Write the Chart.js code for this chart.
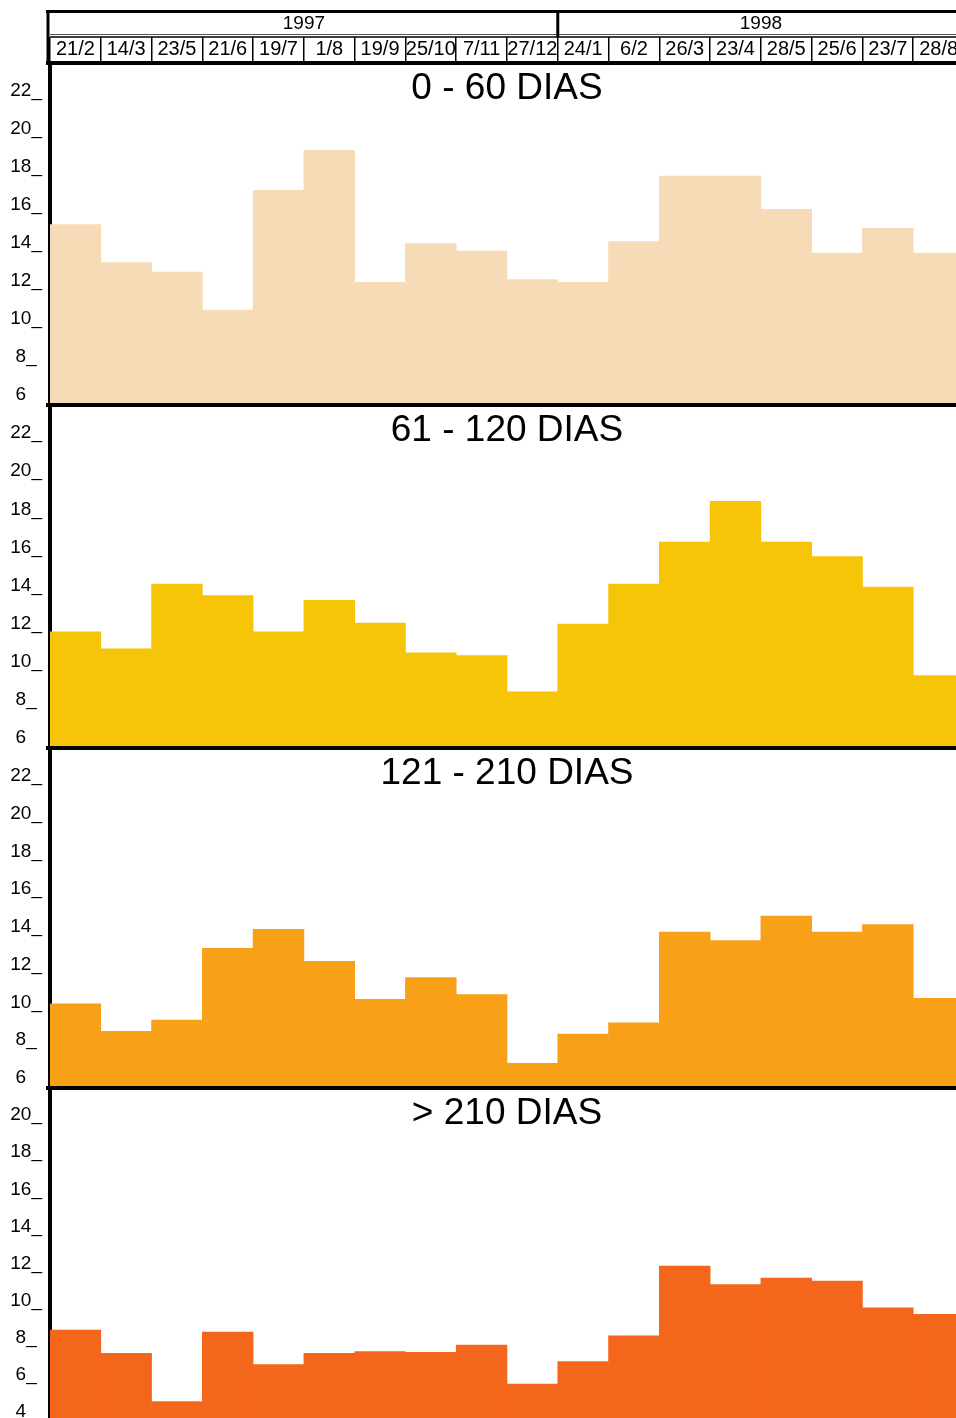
<!DOCTYPE html>
<html>
<head>
<meta charset="utf-8">
<script src="https://cdn.jsdelivr.net/npm/chart.js@4.4.1/dist/chart.umd.min.js"></script>
<style>
	html, body { margin: 0; padding: 0; background: #fff; overflow: hidden; }
	canvas { display: block; }
</style>
</head>
<body>
<canvas id="diasChart" width="964" height="1422"></canvas>
<script>
// sampling dates (day/month), 1997 -> 1998
const dates = ['21/2', '14/3', '23/5', '21/6', '19/7', '1/8', '19/9', '25/10', '7/11', '27/12',
	'24/1', '6/2', '26/3', '23/4', '28/5', '25/6', '23/7', '28/8'];
const years = ['1997', '1998'];
const panelTitles = ['0 - 60 DIAS', '61 - 120 DIAS', '121 - 210 DIAS', '> 210 DIAS'];

// values, one per date
const dias0a60 = [15.5, 13.5, 13.0, 11.0, 17.3, 19.4, 12.45, 14.5, 14.1, 12.6, 12.45, 14.6, 18.05, 18.05, 16.3, 14.0, 15.3, 14.0];
const dias61a120 = [12.1, 11.2, 14.6, 14.0, 12.1, 13.75, 12.55, 11.0, 10.85, 8.95, 12.5, 14.6, 16.8, 18.95, 16.8, 16.05, 14.45, 9.8];
const dias121a210 = [10.45, 9.0, 9.6, 13.4, 14.4, 12.7, 10.7, 11.85, 10.95, 7.3, 8.85, 9.45, 14.25, 13.8, 15.1, 14.25, 14.65, 10.75];
const diasMas210 = [8.95, 7.7, 5.1, 8.85, 7.1, 7.7, 7.8, 7.75, 8.15, 6.05, 7.25, 8.65, 12.4, 11.4, 11.75, 11.6, 10.15, 9.8];

// y ranges of the four panels
const axisMin = [6, 6, 6, 4];
const axisMax = [24, 24, 24, 22];

const FONT = "'Liberation Sans', Arial, sans-serif";
const panelColors = ['#f6dbb6', '#f6c508', '#f7a018', '#f5661d'];
const panelWeights = [342, 343, 340, 334];

// which year each date belongs to (month goes back -> new year)
const yearOf = [];
let yr = 0;
dates.forEach(function(d, i) {
	if(i > 0 && +d.split('/')[1] < +dates[i - 1].split('/')[1]) yr++;
	yearOf.push(yr);
});

function panelAxis(i) {
	return {
		type: 'linear',
		position: 'left',
		stack: 'panels',
		stackWeight: panelWeights[i],
		min: axisMin[i],
		max: axisMax[i],
		grid: { display: false, drawTicks: false },
		border: { display: true, color: '#000', width: 4 },
		ticks: {
			stepSize: 2,
			autoSkip: false,
			crossAlign: 'center',
			padding: 8,
			labelOffset: -10,
			color: '#000',
			font: { family: FONT, size: 19 },
			callback: function(v) {
				if(v === this.max) return null;
				return v === this.min ? v + '  ' : v + '_';
			}
		},
		afterFit: function(scale) {
			scale.width = 50;
			// no extra room for the edge labels, panels touch each other
			scale.paddingTop = 0;
			scale.paddingBottom = 0;
		}
	};
}

// header frame, year row, panel rules and titles
const panelDecor = {
	id: 'panelDecor',
	afterDraw: function(chart) {
		const ctx = chart.ctx;
		const area = chart.chartArea;
		const xs = chart.scales.x;
		const colW = xs.getPixelForValue(1) - xs.getPixelForValue(0);
		ctx.save();
		ctx.strokeStyle = '#000';
		ctx.lineWidth = 3;
		ctx.beginPath();
		ctx.moveTo(area.left - 4, xs.top + 1.5);
		ctx.lineTo(chart.width, xs.top + 1.5);
		ctx.moveTo(area.left - 2, xs.top);
		ctx.lineTo(area.left - 2, xs.bottom);
		ctx.stroke();
		// double rule between year row and date row
		ctx.lineWidth = 1;
		ctx.strokeStyle = '#555';
		ctx.beginPath();
		ctx.moveTo(area.left, xs.top + 24.5);
		ctx.lineTo(chart.width, xs.top + 24.5);
		ctx.stroke();
		ctx.strokeStyle = '#000';
		ctx.lineWidth = 1.5;
		ctx.beginPath();
		ctx.moveTo(area.left, xs.top + 27);
		ctx.lineTo(chart.width, xs.top + 27);
		ctx.stroke();
		// years
		ctx.fillStyle = '#000';
		ctx.font = '19px ' + FONT;
		ctx.textAlign = 'center';
		ctx.textBaseline = 'middle';
		years.forEach(function(label, k) {
			const idx = [];
			yearOf.forEach(function(y, i) { if(y === k) idx.push(i); });
			const x0 = xs.getPixelForValue(idx[0]) - colW / 2;
			const x1 = xs.getPixelForValue(idx[idx.length - 1]) + colW / 2;
			ctx.fillText(label, (x0 + x1) / 2, xs.top + 14);
			if(k > 0) {
				ctx.lineWidth = 3;
				ctx.beginPath();
				ctx.moveTo(x0, xs.top);
				ctx.lineTo(x0, xs.top + 27);
				ctx.stroke();
			}
		});
		// panel separators + titles
		['y1', 'y2', 'y3', 'y4'].forEach(function(id, i) {
			const s = chart.scales[id];
			ctx.lineWidth = 4;
			ctx.beginPath();
			ctx.moveTo(area.left - 4, s.top);
			ctx.lineTo(area.right, s.top);
			ctx.stroke();
			ctx.font = '37px ' + FONT;
			ctx.textBaseline = 'middle';
			ctx.fillText(panelTitles[i], (area.left + area.right) / 2, s.top + 26);
		});
		ctx.restore();
	}
};

function barSet(values, i) {
	return {
		data: values,
		yAxisID: 'y' + (i + 1),
		backgroundColor: panelColors[i],
		borderWidth: 0,
		grouped: false,
		barPercentage: 1,
		categoryPercentage: 1
	};
}

const scales = {
	x: {
		position: 'top',
		offset: true,
		grid: { offset: true, drawOnChartArea: false, drawTicks: true, tickLength: 26, color: '#000', lineWidth: 1.5 },
		border: { display: true, color: '#000', width: 4 },
		ticks: { autoSkip: false, maxRotation: 0, minRotation: 0, padding: -24, color: '#000', font: { family: FONT, size: 20 } },
		afterFit: function(scale) {
			scale.height = 53;
			scale.paddingLeft = 0;
			scale.paddingRight = 0;
		}
	}
};
// left boxes are stacked in reverse order, so the top panel goes in last
scales.y4 = panelAxis(3);
scales.y3 = panelAxis(2);
scales.y2 = panelAxis(1);
scales.y1 = panelAxis(0);

new Chart(document.getElementById('diasChart'), {
	type: 'bar',
	data: {
		labels: dates,
		datasets: [barSet(dias0a60, 0), barSet(dias61a120, 1), barSet(dias121a210, 2), barSet(diasMas210, 3)]
	},
	options: {
		responsive: false,
		animation: false,
		devicePixelRatio: 1,
		layout: { padding: { top: 10, left: 0, right: 0, bottom: 0 } },
		plugins: { legend: { display: false }, tooltip: { enabled: false } },
		scales: scales
	},
	plugins: [panelDecor]
});
</script>
</body>
</html>
